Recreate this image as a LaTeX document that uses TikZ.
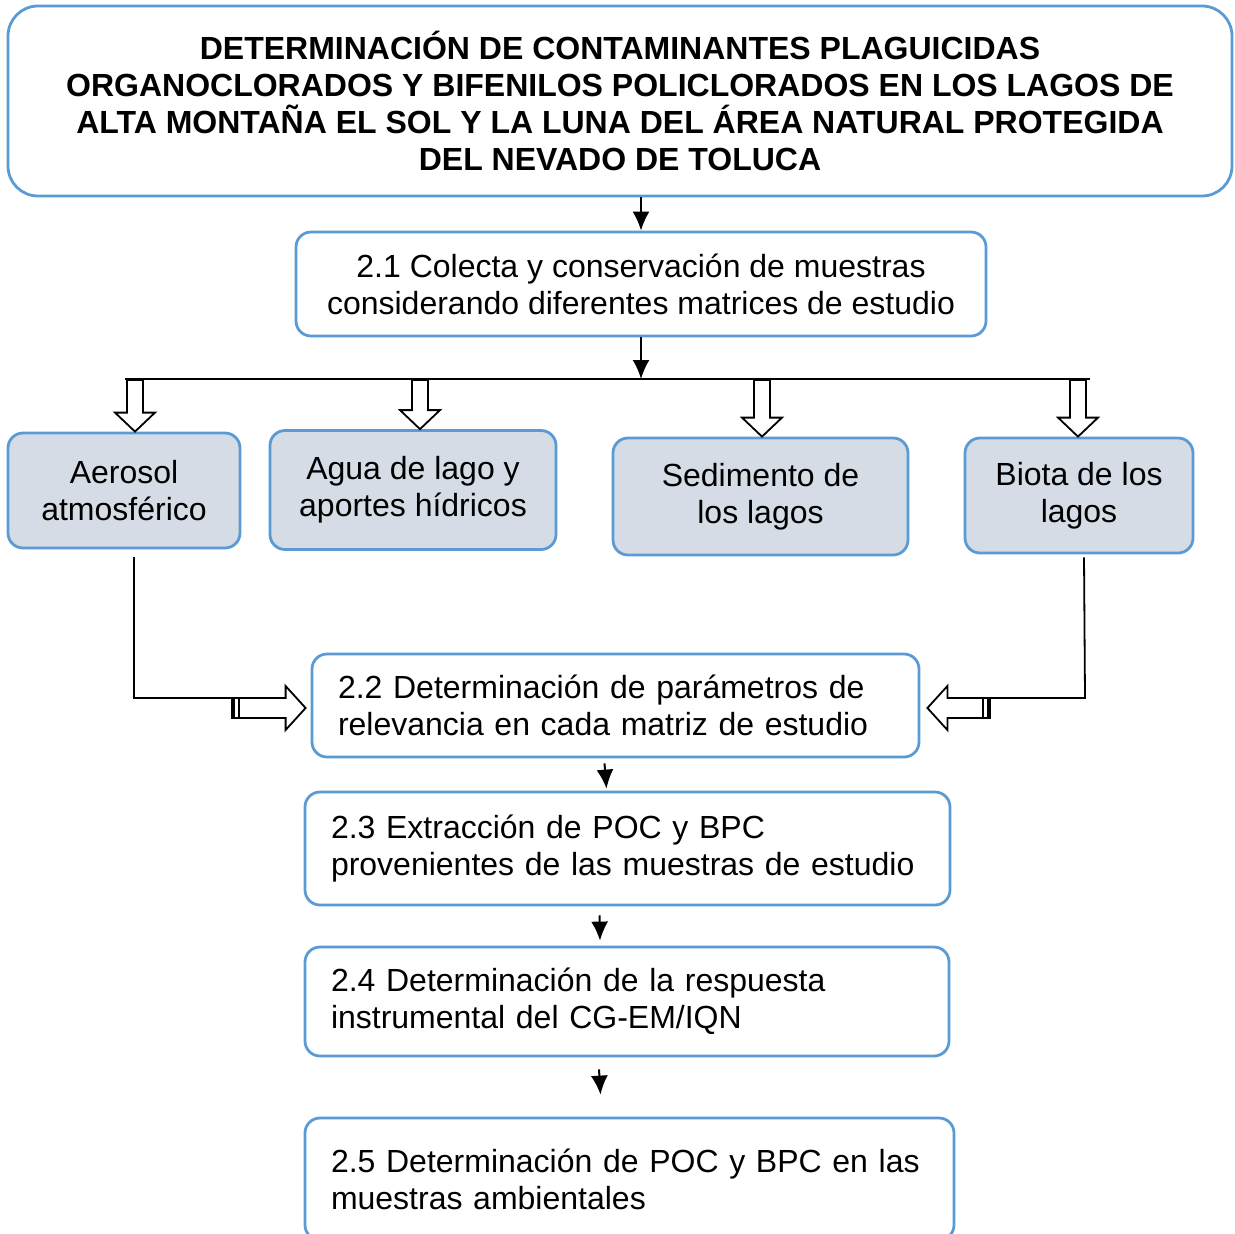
\documentclass[tikz,border=0pt]{standalone}
\usepackage{fontspec}
\setmainfont{Liberation Sans}
\usetikzlibrary{calc,arrows.meta}
\definecolor{boxblue}{RGB}{91,155,213}
\definecolor{matfill}{RGB}{214,220,229}

% hollow block arrow pointing down, from #1 to tip #2
\newcommand{\hollowdown}[2]{%
  \draw[holl] ($(#1)+(-8,0)$) -- ($(#2)+(-8,-19)$) -- ($(#2)+(-20,-19)$) -- (#2)
    -- ($(#2)+(20,-19)$) -- ($(#2)+(8,-19)$) -- ($(#1)+(8,0)$) -- cycle;
  \draw[line width=1.4pt] ($(#1)+(-9,1)$) -- ($(#1)+(9,1)$);}
% hollow block arrow sideways, tail #1, tip #2, #3 = 1 (right) or -1 (left)
\newcommand{\hollowside}[3]{%
  \draw[holl] ($(#1)+(0,-10)$) -- ($(#2)+({-20*#3},-10)$) -- ($(#2)+({-20*#3},-22)$) -- (#2)
    -- ($(#2)+({-20*#3},22)$) -- ($(#2)+({-20*#3},10)$) -- ($(#1)+(0,10)$) -- cycle;
  \draw[line width=1.3pt] ($(#1)+({2*#3},-10)$) -- ($(#1)+({2*#3},10)$);
  \draw[line width=1.3pt] ($(#1)+({7*#3},-10)$) -- ($(#1)+({7*#3},10)$);}

\tikzset{
  base/.style={draw=boxblue, line width=1.4pt, rounded corners=7.5pt, inner sep=0pt,
    font=\fontsize{16}{18.5}\selectfont},
  titlebox/.style={base, rounded corners=15pt, align=center,
    font=\bfseries\fontsize{16}{18.4}\selectfont},
  stepbox/.style={base, align=left, inner xsep=13pt},
  matbox/.style={base, fill=matfill, align=center},
  arr/.style={line width=1pt, -{Latex[length=9.5pt,width=8.5pt]}},
  holl/.style={draw=black, line width=0.9pt, fill=white, line join=miter},
}

\begin{document}
\begin{tikzpicture}[x=0.5pt, y=-0.5pt]
\useasboundingbox (0,0) rectangle (1235,1233);

% title
\node[titlebox, minimum width=612pt, minimum height=95pt] (title) at (620,101)
  {DETERMINACIÓN DE CONTAMINANTES PLAGUICIDAS\\
   ORGANOCLORADOS Y BIFENILOS POLICLORADOS EN LOS LAGOS DE\\
   ALTA MONTAÑA EL SOL Y LA LUNA DEL ÁREA NATURAL PROTEGIDA\\
   DEL NEVADO DE TOLUCA};

% sampling
\node[base, align=center, minimum width=345pt, minimum height=52pt] (c21) at (641,284)
  {2.1 Colecta y conservación de muestras\\considerando diferentes matrices de estudio};

% matrices
\node[matbox, minimum width=116pt, minimum height=57.5pt] (aer) at (124,490.5)
  {Aerosol\\atmosférico};
\node[matbox, minimum width=143pt, minimum height=59.5pt] (agua) at (413,490)
  {Agua de lago y\\aportes hídricos};
\node[matbox, minimum width=147.5pt, minimum height=58.5pt] (sed) at (760.5,496.5)
  {Sedimento de\\los lagos};
\node[matbox, minimum width=114pt, minimum height=57.5pt] (bio) at (1079,495.5)
  {Biota de los\\lagos};

% analysis steps
\node[stepbox, text width=277.5pt, minimum height=51.5pt] (c22) at (615.5,705.5)
  {2.2 Determinación de parámetros de\\relevancia en cada matriz de estudio};
\node[stepbox, text width=296.5pt, minimum height=56.5pt] (c23) at (627.5,848.5)
  {2.3 Extracción de POC y BPC\\provenientes de las muestras de estudio};
\node[stepbox, text width=296pt, minimum height=54.5pt] (c24) at (627,1001.5)
  {2.4 Determinación de la respuesta\\instrumental del CG-EM/IQN};
\node[stepbox, text width=298.5pt, minimum height=61pt] (c25) at (629.5,1179)
  {2.5 Determinación de POC y BPC en las\\muestras ambientales};

% bus
\coordinate (bl) at (125,379);
\coordinate (br) at (1090,379);
\coordinate (b1) at (135,379);
\coordinate (b2) at (420,379);
\coordinate (b3) at (762,379);
\coordinate (b4) at (1078,379);
\coordinate (t1) at (b1 |- aer.north);
\coordinate (t2) at (b2 |- agua.north);
\coordinate (t3) at (b3 |- sed.north);
\coordinate (t4) at (b4 |- bio.north);

\draw[arr] (title.south -| c21.north) -- (c21.north);
\draw[line width=1pt] (bl) -- (br);
\draw[arr] (c21.south) -- (c21.south |- bl);
\hollowdown{b1}{t1}
\hollowdown{b2}{t2}
\hollowdown{b3}{t3}
\hollowdown{b4}{t4}

% side feeds into 2.2
\coordinate (lk) at (134,698);
\coordinate (ltail) at (232,708);
\coordinate (ltip) at ($(c22.west |- ltail)+(-5,0)$);
\coordinate (rk) at (1085,698);
\coordinate (rtail) at (990,708);
\coordinate (rtip) at ($(c22.east |- rtail)+(7,0)$);
\draw[line width=0.9pt] ($(aer.south)+(10,8)$) -- (lk) -- (ltail |- lk);
\draw[line width=0.9pt] ($(bio.south)+(5,3)$) -- (rk) -- (rtail |- rk);
\hollowside{ltail}{ltip}{1}
\hollowside{rtail}{rtip}{-1}

% step arrows
\draw[arr] ($(c22.south)+(-11,5)$) -- ($(c23.north)+(-21,-2)$);
\draw[arr] ($(c23.south)+(-28,9)$) -- ($(c24.north)+(-27,-5)$);
\draw[arr] ($(c24.south)+(-28,12)$) -- ($(c25.north)+(-29,-22)$);
\end{tikzpicture}
\end{document}
